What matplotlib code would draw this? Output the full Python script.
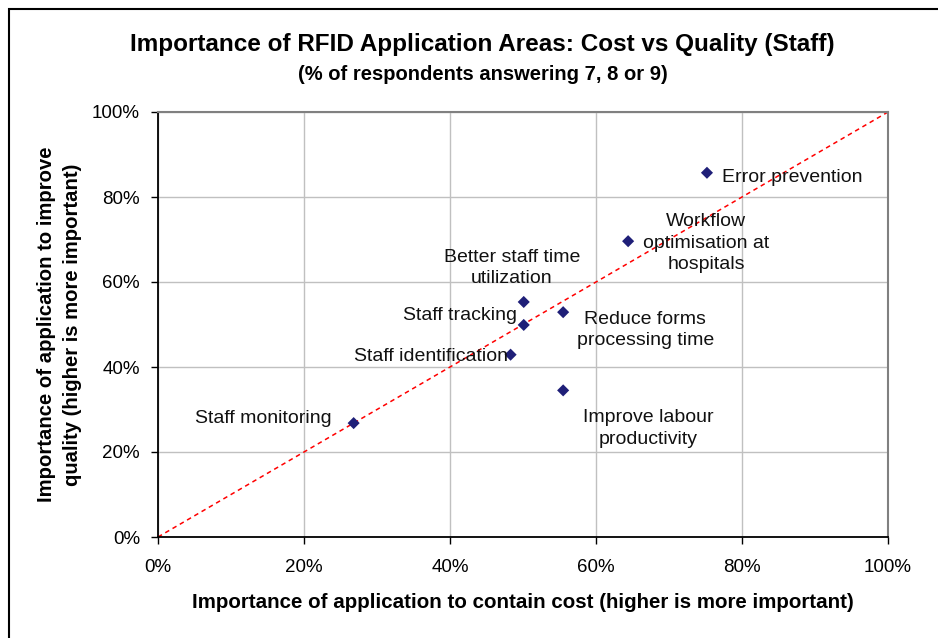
import matplotlib
matplotlib.use('Agg')
import matplotlib.pyplot as plt
from matplotlib.patches import Rectangle
from matplotlib.ticker import PercentFormatter

plt.rcParams['font.family'] = ['Liberation Sans', 'DejaVu Sans']

# data (fractions)
labels = ['Error prevention', 'Workflow\noptimisation at\nhospitals', 'Better staff time\nutilization',
          'Staff tracking', 'Reduce forms\nprocessing time', 'Staff identification',
          'Improve labour\nproductivity', 'Staff monitoring']
cost = [0.752, 0.644, 0.501, 0.501, 0.555, 0.483, 0.555, 0.268]
quality = [0.857, 0.696, 0.553, 0.499, 0.529, 0.429, 0.345, 0.268]

# label placement: offset in pixels from marker, and horizontal alignment
offsets = [(15, -5), (78, -2), (-12, 34), (-7, 9), (82, -18), (-3, -2), (85, -38), (-22, 5)]
aligns = ['left', 'center', 'center', 'right', 'center', 'right', 'center', 'right']

fig = plt.figure(figsize=(9.38, 6.38), dpi=100)
ax = fig.add_axes([158 / 938, 101 / 638, 730 / 938, 425 / 638])

# outer chart border
fig.patches.append(Rectangle((9 / 938, -0.1), 1.2, (638 - 9) / 638 + 0.1, transform=fig.transFigure,
                             fill=False, edgecolor='black', linewidth=1.5))

ax.plot([0, 1], [0, 1], color='#FF0000', linestyle=(0, (3, 2.5)), linewidth=1.1, zorder=2)
ax.scatter(cost, quality, marker='D', s=38, color='#1F1F78', zorder=3, edgecolors='none')

for lab, x, y, off, ha in zip(labels, cost, quality, offsets, aligns):
    ax.annotate(lab, (x, y), xytext=off, textcoords='offset pixels', ha=ha, va='center',
                fontsize=14, linespacing=1.34, multialignment='center', color='#111111', zorder=4)

ax.set_xlim(0, 1)
ax.set_ylim(0, 1)
ticks = [0, 0.2, 0.4, 0.6, 0.8, 1.0]
ax.set_xticks(ticks)
ax.set_yticks(ticks)
ax.xaxis.set_major_formatter(PercentFormatter(1.0, decimals=0))
ax.yaxis.set_major_formatter(PercentFormatter(1.0, decimals=0))
ax.tick_params(axis='both', direction='out', length=5, width=1, labelsize=13.5, color='black')
ax.tick_params(axis='x', pad=11)
ax.tick_params(axis='y', pad=8)

ax.grid(True, color='#C0C0C0', linewidth=1)
ax.set_axisbelow(True)
for side in ['top', 'right']:
    ax.spines[side].set_color('#808080')
    ax.spines[side].set_linewidth(1.5)
for side in ['left', 'bottom']:
    ax.spines[side].set_color('black')
    ax.spines[side].set_linewidth(1.3)

fig.text(482 / 938, 1 - 44 / 638, 'Importance of RFID Application Areas: Cost vs Quality (Staff)',
         ha='center', va='center', fontsize=17.5, fontweight='bold')
fig.text(483 / 938, 1 - 75 / 638, '(% of respondents answering 7, 8 or 9)',
         ha='center', va='center', fontsize=14.5, fontweight='bold')

ax.set_xlabel('Importance of application to contain cost (higher is more important)',
              fontsize=14.8, fontweight='bold', labelpad=12)
ax.set_ylabel('Importance of application to improve\nquality (higher is more important)',
              fontsize=14.6, fontweight='bold', labelpad=7, linespacing=1.45)

fig.savefig('out.png', dpi=100)
